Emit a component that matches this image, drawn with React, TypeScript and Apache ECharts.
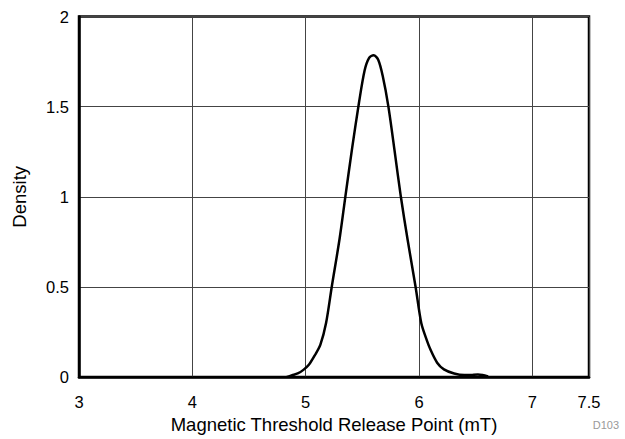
import React, { useEffect, useRef } from "react";
import * as echarts from "echarts";

const releasePoint = [
  4.83, 4.88, 4.93, 4.98, 5.03, 5.08, 5.13, 5.18, 5.23, 5.3, 5.35, 5.41, 5.47, 5.52, 5.56, 5.6,
  5.64, 5.68, 5.73, 5.79, 5.84, 5.9, 5.97, 6.02, 6.06, 6.1, 6.16, 6.22, 6.31, 6.4, 6.46, 6.52, 6.56, 6.61,
];
const density = [
  0.0, 0.01, 0.02, 0.04, 0.07, 0.12, 0.18, 0.3, 0.5, 0.77, 1.0, 1.27, 1.52, 1.7, 1.77, 1.785,
  1.76, 1.67, 1.5, 1.23, 1.0, 0.76, 0.5, 0.3, 0.22, 0.154, 0.08, 0.043, 0.02, 0.011, 0.012, 0.015, 0.012, 0.004,
];

const xTicks = [3, 4, 5, 6, 7, 7.5];

export default function App() {
  const ref = useRef<HTMLDivElement>(null);
  useEffect(() => {
    const chart = echarts.init(ref.current!, null, { renderer: "svg" });
    const font = "Liberation Sans, Arial, Helvetica, sans-serif";
    chart.setOption({
      animation: false,
      backgroundColor: "#fff",
      grid: {
        left: 79,
        top: 16.5,
        right: 36,
        bottom: 61,
        show: true,
        borderColor: "#000",
        borderWidth: 2.5,
      },
      xAxis: [
        {
          type: "value",
          min: 3,
          max: 7.5,
          interval: 0.5,
          name: "Magnetic Threshold Release Point (mT)",
          nameLocation: "middle",
          nameGap: 31,
          nameTextStyle: { fontFamily: font, fontSize: 18.5, color: "#000" },
          axisLine: { show: true, lineStyle: { color: "#000", width: 2.5 } },
          axisTick: { show: false },
          axisLabel: {
            fontFamily: font,
            fontSize: 16.5,
            color: "#000",
            margin: 16,
            showMinLabel: true,
            showMaxLabel: true,
            formatter: (v: number) => (xTicks.includes(v) ? String(v) : ""),
          },
          splitLine: { show: false },
        },
        {
          type: "value",
          min: 3,
          max: 7.5,
          interval: 1,
          position: "bottom",
          axisLine: { show: false },
          axisTick: { show: false },
          axisLabel: { show: false },
          splitLine: { show: true, lineStyle: { color: "#444", width: 1 } },
        },
      ],
      yAxis: {
        type: "value",
        min: 0,
        max: 2,
        interval: 0.5,
        name: "Density",
        nameLocation: "middle",
        nameGap: 50,
        nameTextStyle: { fontFamily: font, fontSize: 18.5, color: "#000" },
        axisLine: { show: true, lineStyle: { color: "#000", width: 2.5 } },
        axisTick: { show: false },
        axisLabel: { fontFamily: font, fontSize: 16.5, color: "#000", margin: 10 },
        splitLine: { show: true, lineStyle: { color: "#444", width: 1 } },
      },
      series: [
        {
          type: "line",
          xAxisIndex: 0,
          data: releasePoint.map((x, i) => [x, density[i]]),
          smooth: 0.3,
          showSymbol: false,
          lineStyle: { color: "#000", width: 2.5 },
          z: 5,
        },
      ],
      graphic: [
        {
          type: "text",
          right: 6,
          top: 419,
          style: { text: "D103", fill: "#999", fontSize: 11, fontFamily: font },
        },
      ],
    });
    return () => chart.dispose();
  }, []);
  return (
    <div
      ref={ref}
      style={{ position: "fixed", left: 0, top: 0, width: 625, height: 439 }}
    />
  );
}
